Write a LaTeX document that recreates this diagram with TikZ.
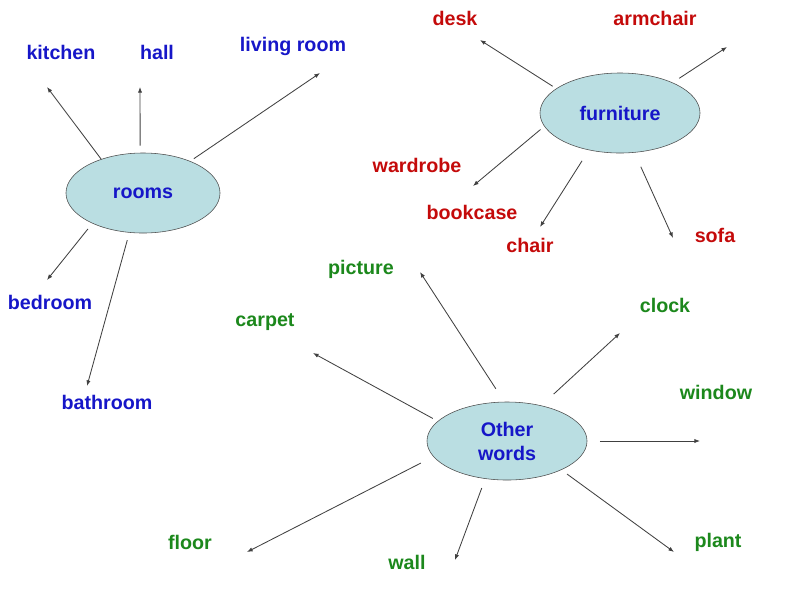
\documentclass[tikz,border=0pt]{standalone}
\usepackage{fontspec}
\setmainfont{Liberation Sans}
\usetikzlibrary{shapes.geometric,arrows.meta}
\definecolor{Bcolor}{RGB}{22, 22, 200}
\definecolor{Rcolor}{RGB}{196, 10, 10}
\definecolor{Gcolor}{RGB}{28, 136, 28}
\definecolor{Ecolor}{RGB}{186, 222, 226}
\tikzset{
    topic/.style={draw=black!70, shape=ellipse, fill=Ecolor, inner sep=0pt, text=Bcolor, align=center},
    word/.style={font=\bfseries\fontsize{14}{17}\selectfont},
    link/.style={draw=black!75, line width=0.6pt, -{Latex[length=4pt, width=3pt]}}
}
\begin{document}
\begin{tikzpicture}[x=0.025cm, y=-0.025cm, word]
            \useasboundingbox (0, 0) rectangle (800, 600);
            % topics
            \node[topic, minimum width=3.85cm, minimum height=2cm] (rooms) at (143, 193) {rooms};
            \node[topic, minimum width=4cm, minimum height=2cm] (furniture) at (620, 113) {furniture};
            \node[topic, minimum width=4cm, minimum height=1.95cm] (other) at (507, 441) {Other\\words};
            % rooms
            \node[text=Bcolor] (kitchen) at (61, 52) {kitchen};
            \node[text=Bcolor] (hall) at (157, 52) {hall};
            \node[text=Bcolor] (living) at (293, 46) {living room};
            \node[text=Bcolor] (bedroom) at (50, 302) {bedroom};
            \node[text=Bcolor] (bathroom) at (107, 402) {bathroom};
            \coordinate (kitchenEnd) at (47, 87);
            \coordinate (hallEnd) at (140, 87);
            \coordinate (livingEnd) at (320, 73);
            \coordinate (bedroomEnd) at (47, 280);
            \coordinate (bathroomEnd) at (87, 386);
            \draw[link] (rooms.141) -- (kitchenEnd);
            \draw[link, shorten <=5pt] (rooms.94) -- (hallEnd);
            \draw[link, shorten <=3pt] (rooms.34) -- (livingEnd);
            \draw[link, shorten <=5pt] (rooms.211) -- (bedroomEnd);
            \draw[link, shorten <=5.5pt] (rooms.251) -- (bathroomEnd);
            % furniture
            \node[text=Rcolor] (desk) at (455, 18) {desk};
            \node[text=Rcolor] (armchair) at (655, 18) {armchair};
            \node[text=Rcolor] (wardrobe) at (417, 165) {wardrobe};
            \node[text=Rcolor] (bookcase) at (472, 212) {bookcase};
            \node[text=Rcolor] (chair) at (530, 245) {chair};
            \node[text=Rcolor] (sofa) at (715, 235) {sofa};
            \coordinate (deskEnd) at (480, 40);
            \coordinate (armchairEnd) at (727, 47);
            \coordinate (wardrobeEnd) at (473, 186);
            \coordinate (chairEnd) at (540, 227);
            \coordinate (sofaEnd) at (673, 238);
            \draw[link, shorten <=3pt] (furniture.159) -- (deskEnd);
            \draw[link, shorten <=5.5pt] (furniture.30) -- (armchairEnd);
            \draw[link, shorten <=3.5pt] (furniture.190) -- (wardrobeEnd);
            \draw[link, shorten <=9pt] (furniture.230) -- (chairEnd);
            \draw[link, shorten <=11pt] (furniture.290) -- (sofaEnd);
            % other words
            \node[text=Gcolor] (picture) at (361, 269) {picture};
            \node[text=Gcolor] (carpet) at (265, 322) {carpet};
            \node[text=Gcolor] (clock) at (665, 305) {clock};
            \node[text=Gcolor] (window) at (716, 392) {window};
            \node[text=Gcolor] (floor) at (190, 542) {floor};
            \node[text=Gcolor] (wall) at (407, 562) {wall};
            \node[text=Gcolor] (plant) at (718, 542) {plant};
            \coordinate (pictureEnd) at (420, 272);
            \coordinate (carpetEnd) at (313, 353);
            \coordinate (clockEnd) at (620, 333);
            \coordinate (windowEnd) at (700, 441);
            \coordinate (floorEnd) at (247, 552);
            \coordinate (wallEnd) at (455, 560);
            \coordinate (plantEnd) at (674, 552);
            \draw[link, shorten <=11pt] (other.94) -- (pictureEnd);
            \draw[link, shorten <=4pt] (other.164) -- (carpetEnd);
            \draw[link, shorten <=12pt] (other.46) -- (clockEnd);
            \draw[link, shorten <=9pt] (other.east) -- (windowEnd);
            \draw[link, shorten <=10pt] (other.192) -- (floorEnd);
            \draw[link, shorten <=7pt] (other.240) -- (wallEnd);
            \draw[link, shorten <=5pt] (other.332) -- (plantEnd);
        \end{tikzpicture}
\end{document}
